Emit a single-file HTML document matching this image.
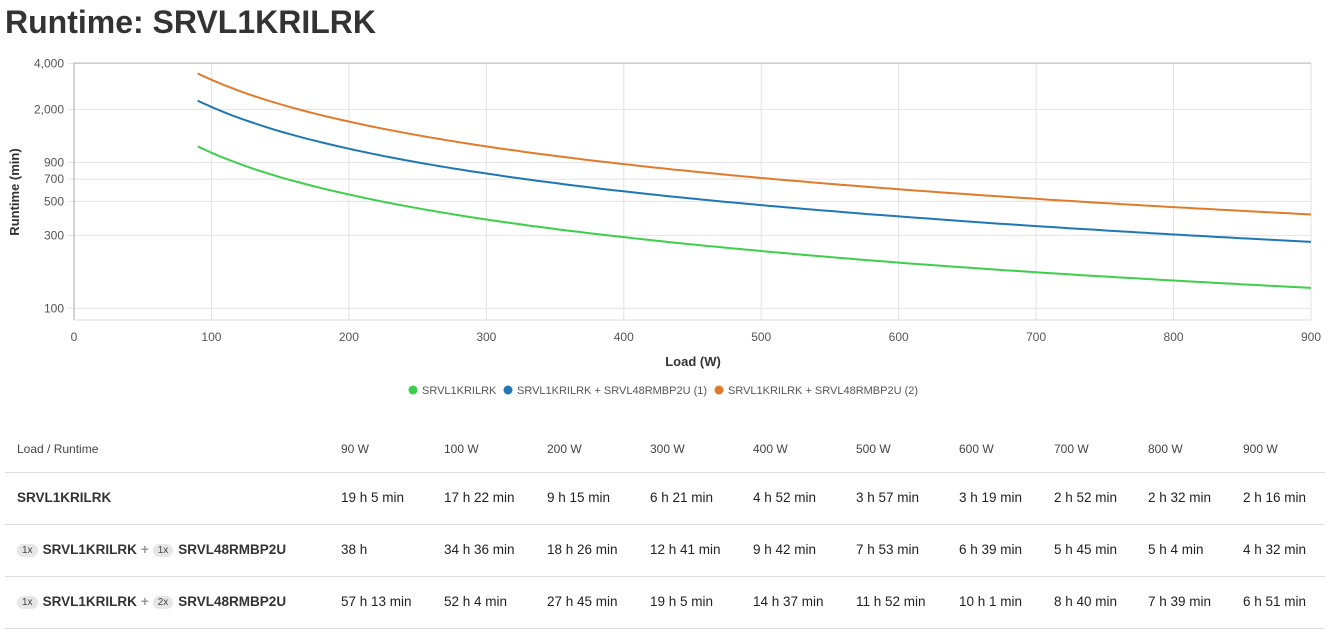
<!DOCTYPE html>
<html><head><meta charset="utf-8"><style>
body{margin:0;width:1332px;height:640px;background:#fff;font-family:"Liberation Sans",Arial,sans-serif;color:#222;position:relative;overflow:hidden}
h1{position:absolute;left:5px;top:4px;margin:0;font-size:32px;font-weight:bold;color:#333}
svg{position:absolute;left:0;top:0}
.t{position:absolute;font-size:13.5px;color:#222;white-space:nowrap}
.h{font-size:12px;color:#444}
.b{font-weight:bold;color:#333;font-size:13.5px}
.line{position:absolute;left:5px;width:1320px;height:1px;background:#ddd}
.bd{display:inline-block;background:#e6e6e6;border-radius:9px;font-size:10px;padding:1px 5px;color:#444;font-weight:normal;vertical-align:1px;margin-right:5px}
.pl{color:#999;margin:0 4px}
</style></head><body>
<h1>Runtime: SRVL1KRILRK</h1>
<svg width="1332" height="420" id="s" font-family="Liberation Sans, Arial, sans-serif"></svg>
<div class="t h" style="left:17px;top:442px">Load / Runtime</div>
<div class="line" style="top:472px"></div>
<div class="line" style="top:524px"></div>
<div class="line" style="top:576px"></div>
<div class="line" style="top:628px"></div>
<div class="t b" style="left:17px;top:490px">SRVL1KRILRK</div>
<div class="t b" style="left:17px;top:542px"><span class="bd">1x</span>SRVL1KRILRK<span class="pl">+</span><span class="bd">1x</span>SRVL48RMBP2U</div>
<div class="t b" style="left:17px;top:594px"><span class="bd">1x</span>SRVL1KRILRK<span class="pl">+</span><span class="bd">2x</span>SRVL48RMBP2U</div>
<div id="cells"></div>
<script>
var X=[341,444,547,650,753,856,959,1054,1148,1243];
var H=["90 W","100 W","200 W","300 W","400 W","500 W","600 W","700 W","800 W","900 W"];
var R=[["19 h 5 min","17 h 22 min","9 h 15 min","6 h 21 min","4 h 52 min","3 h 57 min","3 h 19 min","2 h 52 min","2 h 32 min","2 h 16 min"],
["38 h","34 h 36 min","18 h 26 min","12 h 41 min","9 h 42 min","7 h 53 min","6 h 39 min","5 h 45 min","5 h 4 min","4 h 32 min"],
["57 h 13 min","52 h 4 min","27 h 45 min","19 h 5 min","14 h 37 min","11 h 52 min","10 h 1 min","8 h 40 min","7 h 39 min","6 h 51 min"]];
var c="";
for(var i=0;i<10;i++){c+='<div class="t h" style="left:'+X[i]+'px;top:442px">'+H[i]+'</div>';
for(var r=0;r<3;r++)c+='<div class="t" style="left:'+X[i]+'px;top:'+(490+52*r)+'px">'+R[r][i]+'</div>';}
document.getElementById("cells").innerHTML=c;
var s="";
function xs(w){return 74+w*1237/900}
function ys(v){return 308.3-(Math.log10(v)-2)*152.9}
[100,200,300,400,500,600,700,800,900].forEach(function(w){s+='<line x1="'+xs(w)+'" y1="63" x2="'+xs(w)+'" y2="320" stroke="#e2e2e2"/>';});
[4000,2000,900,700,500,300,100].forEach(function(v){var y=ys(v);s+='<line x1="68" y1="'+y+'" x2="1311" y2="'+y+'" stroke="#e2e2e2"/><text x="64" y="'+(y+4)+'" font-size="12" fill="#555" text-anchor="end">'+v.toLocaleString("en-US")+'</text>';});
s+='<line x1="74" y1="63" x2="1311" y2="63" stroke="#bbb"/><line x1="1311" y1="63" x2="1311" y2="320" stroke="#e2e2e2"/>';
s+='<line x1="74" y1="63" x2="74" y2="320" stroke="#aaa"/><line x1="74" y1="320" x2="1311" y2="320" stroke="#ddd"/>';
[0,100,200,300,400,500,600,700,800,900].forEach(function(w){s+='<text x="'+xs(w)+'" y="341" font-size="12" fill="#555" text-anchor="middle">'+w+'</text>';});
s+='<text x="693" y="366" font-size="13" font-weight="bold" fill="#333" text-anchor="middle">Load (W)</text>';
s+='<text transform="translate(19,192) rotate(-90)" font-size="13" font-weight="bold" fill="#333" text-anchor="middle">Runtime (min)</text>';
var W=[90,100,200,300,400,500,600,700,800,900];
var D=[[1145,1042,555,381,292,237,199,172,152,136,"#3ecf4a"],[2280,2076,1106,761,582,473,399,345,304,272,"#1f77b4"],[3433,3124,1665,1145,877,712,601,520,459,411,"#e07b2c"]];
D.forEach(function(d){var p="";for(var i=0;i<9;i++){for(var k=0;k<20;k++){var t=k/20;var lw=Math.log(W[i])+(Math.log(W[i+1])-Math.log(W[i]))*t;var lv=Math.log(d[i])+(Math.log(d[i+1])-Math.log(d[i]))*t;p+=(p?"L":"M")+xs(Math.exp(lw)).toFixed(1)+","+ys(Math.exp(lv)).toFixed(1);}}
p+="L"+xs(900)+","+ys(d[9]);s+='<path d="'+p+'" fill="none" stroke="'+d[10]+'" stroke-width="2"/>';});
var L=[[413,"#3ecf4a","SRVL1KRILRK"],[508,"#1f77b4","SRVL1KRILRK + SRVL48RMBP2U (1)"],[719,"#e07b2c","SRVL1KRILRK + SRVL48RMBP2U (2)"]];
L.forEach(function(l){s+='<circle cx="'+l[0]+'" cy="390" r="4.5" fill="'+l[1]+'"/><text x="'+(l[0]+9)+'" y="394" font-size="11" fill="#555">'+l[2]+'</text>';});
document.getElementById("s").innerHTML=s;
</script>
</body></html>
